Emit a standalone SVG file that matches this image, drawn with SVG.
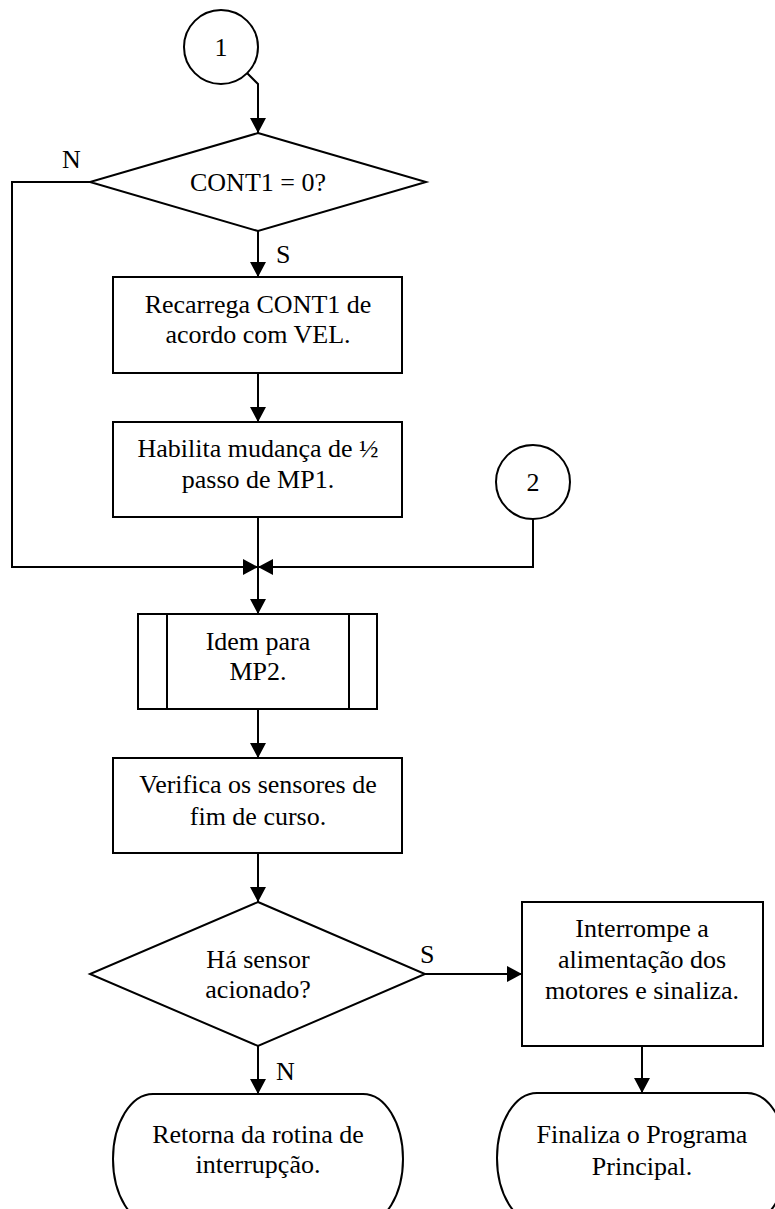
<svg xmlns="http://www.w3.org/2000/svg" width="775" height="1209" viewBox="0 0 775 1209">
  <style>
    .shape { fill: #ffffff; stroke: #000000; stroke-width: 2; }
    .line { fill: none; stroke: #000000; stroke-width: 2; }
    .arrow { marker-end: url(#head); }
    text { font-family: "Liberation Serif", "Times New Roman", serif; font-size: 26px; fill: #000000; }
    .c { text-anchor: middle; }
  </style>
  <defs>
    <marker id="head" markerUnits="userSpaceOnUse" markerWidth="16" markerHeight="16" viewBox="0 0 16 16" refX="15" refY="8" orient="auto">
      <path d="M0,0 L15,8 L0,16 Z" fill="#000000"/>
    </marker>
  </defs>

  <rect width="775" height="1209" fill="#ffffff"/>

  <!-- connectors -->
  <g id="connectors">
    <path class="line arrow" d="M247,73 L258,84 L258,133"/>
    <path class="line arrow" d="M258,231 L258,277"/>
    <path class="line arrow" d="M258,373 L258,422"/>
    <path class="line arrow" d="M90,182 L12,182 L12,567 L258,567"/>
    <path class="line arrow" d="M533,519 L533,567 L258,567"/>
    <path class="line arrow" d="M258,517 L258,614"/>
    <path class="line arrow" d="M258,709 L258,758"/>
    <path class="line arrow" d="M258,853 L258,902"/>
    <path class="line arrow" d="M258,1046 L258,1094"/>
    <path class="line arrow" d="M425,974 L522,974"/>
    <path class="line arrow" d="M642,1046 L642,1093"/>
    <text x="62" y="168">N</text>
    <text x="276" y="263">S</text>
    <text x="420" y="963">S</text>
    <text x="276" y="1080">N</text>
  </g>

  <!-- off-page connector 1 -->
  <g id="conn1">
    <circle class="shape" cx="221" cy="47" r="37"/>
    <text class="c" x="221" y="56">1</text>
  </g>

  <!-- decision: CONT1 = 0? -->
  <g id="dec1">
    <polygon class="shape" points="258,133 426,182 258,231 90,182"/>
    <text class="c" x="258" y="191">CONT1 = 0?</text>
  </g>

  <g id="box1">
    <rect class="shape" x="113" y="277" width="289" height="96"/>
    <text class="c" x="258" y="313">Recarrega CONT1 de</text>
    <text class="c" x="258" y="343">acordo com VEL.</text>
  </g>

  <g id="box2">
    <rect class="shape" x="113" y="422" width="289" height="95"/>
    <text class="c" x="258" y="457">Habilita mudança de ½</text>
    <text class="c" x="258" y="488">passo de MP1.</text>
  </g>

  <!-- off-page connector 2 -->
  <g id="conn2">
    <circle class="shape" cx="533" cy="482" r="37"/>
    <text class="c" x="533" y="491">2</text>
  </g>

  <!-- predefined process -->
  <g id="sub1">
    <rect class="shape" x="138" y="614" width="239" height="95"/>
    <line class="line" x1="167" y1="614" x2="167" y2="709"/>
    <line class="line" x1="349" y1="614" x2="349" y2="709"/>
    <text class="c" x="258" y="650">Idem para</text>
    <text class="c" x="258" y="680">MP2.</text>
  </g>

  <g id="box3">
    <rect class="shape" x="113" y="758" width="289" height="95"/>
    <text class="c" x="258" y="793">Verifica os sensores de</text>
    <text class="c" x="258" y="825">fim de curso.</text>
  </g>

  <!-- decision: sensor -->
  <g id="dec2">
    <polygon class="shape" points="258,902 425,974 258,1046 90,974"/>
    <text class="c" x="258" y="968">Há sensor</text>
    <text class="c" x="258" y="998">acionado?</text>
  </g>

  <g id="box4">
    <rect class="shape" x="522" y="902" width="241" height="144"/>
    <text class="c" x="642" y="937">Interrompe a</text>
    <text class="c" x="642" y="968">alimentação dos</text>
    <text class="c" x="642" y="999">motores e sinaliza.</text>
  </g>

  <!-- terminators -->
  <g id="end1">
    <rect class="shape" x="113" y="1094" width="290" height="130" rx="40" ry="65"/>
    <text class="c" x="258" y="1143">Retorna da rotina de</text>
    <text class="c" x="258" y="1173">interrupção.</text>
  </g>

  <g id="end2">
    <rect class="shape" x="497" y="1093" width="290" height="130" rx="40" ry="65"/>
    <text class="c" x="642" y="1143">Finaliza o Programa</text>
    <text class="c" x="642" y="1175">Principal.</text>
  </g>
</svg>
